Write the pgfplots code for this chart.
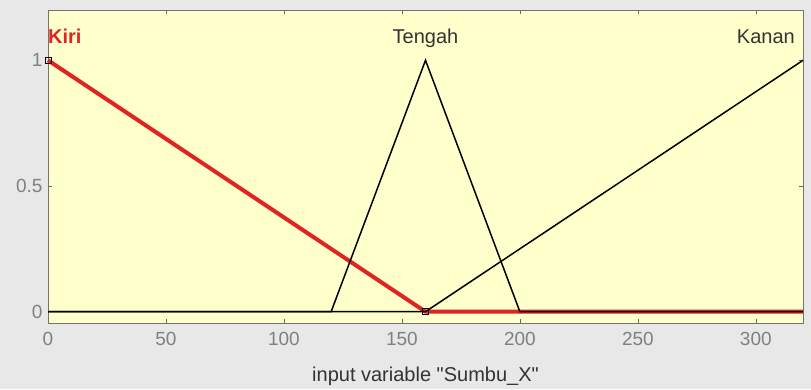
\documentclass[border=0pt]{standalone}
\usepackage{pgfplots}
\pgfplotsset{compat=1.18}
\usepackage{fontspec}
\setmainfont{Liberation Sans}
% same face without TeX ligatures, so that " stays a straight quote
\newfontfamily\plainfont{Liberation Sans}
\definecolor{panel}{HTML}{E8E8E8}
\definecolor{plotbg}{HTML}{FFFFCC}
\definecolor{tickgray}{HTML}{808080}
\definecolor{selred}{HTML}{E02424}

\begin{document}
\begin{tikzpicture}
% figure panel
\fill[panel] (0pt,0pt) rectangle (811pt,389pt);
\begin{axis}[
  at={(48pt,66pt)}, anchor=south west,
  scale only axis, width=755pt, height=313pt,
  xmin=0, xmax=320, ymin=-0.045, ymax=1.2,
  axis background/.style={fill=plotbg},
  xtick={0,50,...,300}, ytick={0,0.5,1},
  tick align=inside, major tick length=4pt,
  axis line style={draw=black!55, line width=0.8pt},
  tick style={black!60, line width=0.6pt},
  ticklabel style={font=\fontsize{19}{19}\selectfont, text=tickgray},
  xticklabel style={yshift=-6pt},
  yticklabel style={xshift=-2pt},
  /pgf/number format/assume math mode=true,
  xlabel={input variable "Sumbu\_X"},
  xlabel style={font=\plainfont\fontsize{20}{20}\selectfont, text=black!80,
    at={(axis description cs:0.5,-0.17)}, anchor=center},
  clip=false,
]
% membership functions of the input variable
\addplot[selred, line width=4pt] coordinates {(0,1) (160,0) (320,0)};
\addplot[black, line width=1.5pt] coordinates {(0,0) (120,0) (160,1) (200,0) (320,0)};
\addplot[black, line width=1.5pt] coordinates {(0,0) (160,0) (320,1)};
% vertex markers of the selected function
\addplot[only marks, mark=square, mark size=3pt, black, line width=0.9pt] coordinates {(0,1) (160,0)};
% function names
\node[anchor=base west, inner sep=0pt, text=selred, font=\fontsize{20}{20}\selectfont\bfseries] at (axis cs:0,1.067) {Kiri};
\node[anchor=base, inner sep=0pt, text=black!80, font=\fontsize{20}{20}\selectfont] at (axis cs:160,1.067) {Tengah};
\node[anchor=base east, inner sep=0pt, text=black!80, font=\fontsize{20}{20}\selectfont] at (axis cs:316.6,1.067) {Kanan};
\end{axis}
\end{tikzpicture}
\end{document}
